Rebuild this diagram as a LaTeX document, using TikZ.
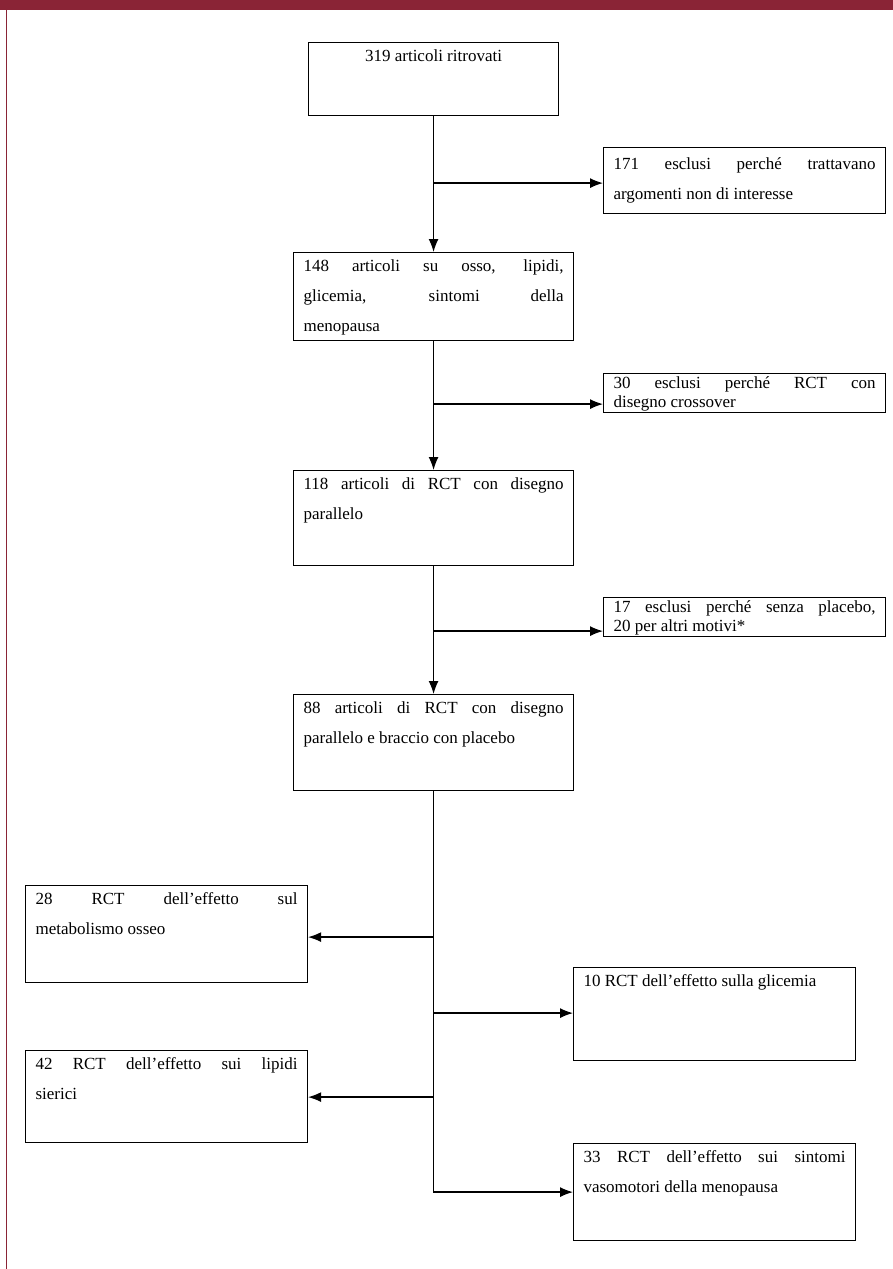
\documentclass[tikz,border=0pt]{standalone}
\usepackage{fontspec}
\setmainfont{Liberation Serif}
\usetikzlibrary{arrows.meta}
\definecolor{maroon}{HTML}{8A2436}
\newcommand{\boxtext}[3]{\begin{minipage}[t][#2pt][t]{#1pt}\fontsize{17}{30}\selectfont\hyphenpenalty=10000\rule{0pt}{19pt}#3\end{minipage}}
\newcommand{\tightboxtext}[3]{\begin{minipage}[t][#2pt][t]{#1pt}\fontsize{17}{19}\selectfont\hyphenpenalty=10000\rule{0pt}{15pt}#3\end{minipage}}
\tikzset{
  fbox/.style={draw=black, line width=1.1pt, anchor=north west, inner xsep=10pt, inner ysep=0pt, fill=white},
  arr/.style={line width=1.3pt, -{Latex[length=13pt,width=10pt]}},
  ln/.style={line width=1.3pt}
}
\begin{document}
\begin{tikzpicture}[x=1pt,y=-1pt]
\useasboundingbox (0,0) rectangle (893,1269);
\fill[white] (0,0) rectangle (893,1269);
\fill[maroon] (0,0) rectangle (893,10);
\draw[maroon, line width=1pt] (6,10) -- (6,1269);
% main column
\node[fbox] (b1) at (308,42) {\boxtext{230}{73}{\centering 319 articoli ritrovati\par}};
\node[fbox] (b2) at (293,252) {\boxtext{260}{88}{148 articoli su osso, lipidi,\linebreak glicemia, sintomi della\linebreak menopausa}};
\node[fbox] (b3) at (293,470) {\boxtext{260}{95}{118 articoli di RCT con disegno\linebreak parallelo}};
\node[fbox] (b4) at (293,694) {\boxtext{260}{96}{88 articoli di RCT con disegno\linebreak parallelo e braccio con placebo}};
% exclusions
\node[fbox] (e1) at (603,147) {\boxtext{262}{66}{\rule{0pt}{22pt}171 esclusi perché trattavano\linebreak argomenti non di interesse}};
\node[fbox] (e2) at (603,373) {\tightboxtext{262}{39}{30 esclusi perché RCT con\linebreak disegno crossover}};
\node[fbox] (e3) at (603,597) {\tightboxtext{262}{39}{17 esclusi perché senza placebo,\linebreak 20 per altri motivi*}};
% outcomes
\node[fbox] (o1) at (25,885) {\boxtext{262}{97}{28 RCT dell’effetto sul\linebreak metabolismo osseo}};
\node[fbox] (o2) at (573,967) {\boxtext{262}{93}{10 RCT dell’effetto sulla glicemia}};
\node[fbox] (o3) at (25,1050) {\boxtext{262}{92}{42 RCT dell’effetto sui lipidi\linebreak sierici}};
\node[fbox] (o4) at (573,1143) {\boxtext{262}{97}{33 RCT dell’effetto sui sintomi\linebreak vasomotori della menopausa}};
% junction coordinates
\coordinate (j1) at ([yshift=-67pt]b1.south);
\coordinate (j2) at ([yshift=-63pt]b2.south);
\coordinate (j3) at ([yshift=-65pt]b3.south);
\coordinate (k1) at ([yshift=-146pt]b4.south);
\coordinate (k2) at ([yshift=-222pt]b4.south);
\coordinate (k3) at ([yshift=-306pt]b4.south);
\coordinate (k4) at ([yshift=-401pt]b4.south);
% connectors
\draw[arr] (b1.south) -- (b2.north);
\draw[arr] (j1) -- (j1 -| e1.west);
\draw[arr] (b2.south) -- (b3.north);
\draw[arr] (j2) -- (j2 -| e2.west);
\draw[arr] (b3.south) -- (b4.north);
\draw[arr] (j3) -- (j3 -| e3.west);
\draw[arr] (b4.south) -- (k4) -- (k4 -| o4.west);
\draw[arr] (k1) -- (k1 -| o1.east);
\draw[arr] (k2) -- (k2 -| o2.west);
\draw[arr] (k3) -- (k3 -| o3.east);
\end{tikzpicture}
\end{document}
